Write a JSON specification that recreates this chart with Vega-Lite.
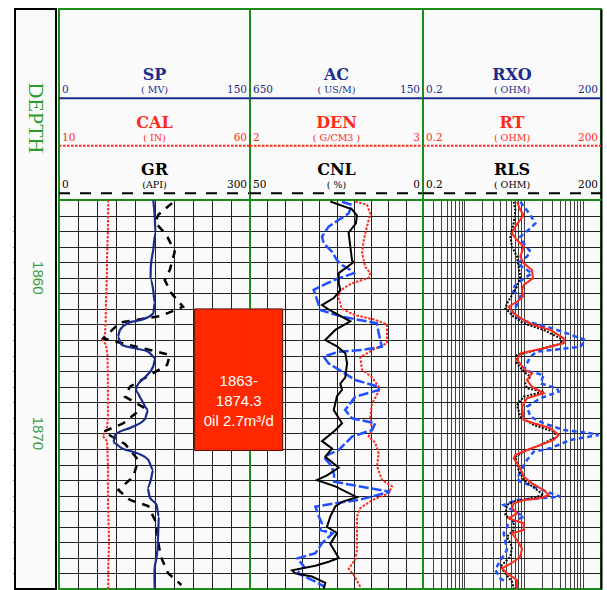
{
  "$schema": "https://vega.github.io/schema/vega-lite/v6.json",
  "background": "#ffffff",
  "padding": {"left": 11, "top": 8, "right": 0, "bottom": 0},
  "config": {
    "view": {"stroke": "#1a8c1a", "strokeWidth": 2, "fill": "#fafafa"},
    "line": {"strokeWidth": 2, "clip": true}
  },
  "datasets": {
    "depthLabels": [{"depth": 1860}, {"depth": 1870}],
    "head1": [
      {"row": 1, "name": "SP", "unit": "( MV)", "min": "0", "max": "150"},
      {"row": 2, "name": "CAL", "unit": "( IN)", "min": "10", "max": "60"},
      {"row": 3, "name": "GR", "unit": "(API)", "min": "0", "max": "300"}
    ],
    "head2": [
      {"row": 1, "name": "AC", "unit": "( US/M)", "min": "650", "max": "150"},
      {"row": 2, "name": "DEN", "unit": "( G/CM3 )", "min": "2", "max": "3"},
      {"row": 3, "name": "CNL", "unit": "( %)", "min": "50", "max": "0"}
    ],
    "head3": [
      {"row": 1, "name": "RXO", "unit": "( OHM)", "min": "0.2", "max": "200"},
      {"row": 2, "name": "RT", "unit": "( OHM)", "min": "0.2", "max": "200"},
      {"row": 3, "name": "RLS", "unit": "( OHM)", "min": "0.2", "max": "200"}
    ],
    "box": [{"top": 1862, "bottom": 1871.1, "label": "1863-\n1874.3\n0il 2.7m³/d"}],
    "SP": [
      {"depth": 1855.0, "sp": 74.0}, {"depth": 1856.1, "sp": 75.2}, {"depth": 1857.1, "sp": 75.8},
      {"depth": 1858.2, "sp": 74.0}, {"depth": 1859.3, "sp": 72.1}, {"depth": 1860.1, "sp": 71.9},
      {"depth": 1860.8, "sp": 74.0}, {"depth": 1861.6, "sp": 75.2}, {"depth": 1862.3, "sp": 74.0},
      {"depth": 1862.7, "sp": 64.8}, {"depth": 1862.9, "sp": 54.4}, {"depth": 1863.35, "sp": 47.9},
      {"depth": 1863.8, "sp": 46.1}, {"depth": 1864.3, "sp": 49.2}, {"depth": 1864.53, "sp": 59.6},
      {"depth": 1864.75, "sp": 70.1}, {"depth": 1865.15, "sp": 75.8}, {"depth": 1865.7, "sp": 74.0},
      {"depth": 1866.4, "sp": 67.4}, {"depth": 1867.0, "sp": 60.9}, {"depth": 1867.3, "sp": 60.5},
      {"depth": 1867.85, "sp": 64.8}, {"depth": 1868.5, "sp": 70.1}, {"depth": 1869.1, "sp": 67.4},
      {"depth": 1869.6, "sp": 57.0}, {"depth": 1870.1, "sp": 44.0}, {"depth": 1870.6, "sp": 42.7},
      {"depth": 1870.95, "sp": 49.2}, {"depth": 1871.3, "sp": 62.2}, {"depth": 1871.7, "sp": 70.1},
      {"depth": 1872.35, "sp": 74.0}, {"depth": 1873.0, "sp": 72.1}, {"depth": 1873.5, "sp": 69.5},
      {"depth": 1874.1, "sp": 71.3}, {"depth": 1874.6, "sp": 76.6}, {"depth": 1875.35, "sp": 78.4},
      {"depth": 1876.4, "sp": 77.9}, {"depth": 1877.5, "sp": 77.3}, {"depth": 1878.6, "sp": 75.2},
      {"depth": 1879.0, "sp": 74.7}, {"depth": 1880.0, "sp": 75.2}
    ],
    "CAL": [
      {"depth": 1855.0, "cal": 22.9}, {"depth": 1857.0, "cal": 22.8}, {"depth": 1858.5, "cal": 22.6},
      {"depth": 1860.0, "cal": 22.5}, {"depth": 1861.5, "cal": 22.3}, {"depth": 1863.0, "cal": 22.2},
      {"depth": 1863.7, "cal": 22.0}, {"depth": 1863.95, "cal": 21.3}, {"depth": 1864.3, "cal": 22.3},
      {"depth": 1865.0, "cal": 22.7}, {"depth": 1867.0, "cal": 22.8}, {"depth": 1869.0, "cal": 22.8},
      {"depth": 1869.8, "cal": 22.5}, {"depth": 1870.15, "cal": 21.4}, {"depth": 1870.5, "cal": 22.6},
      {"depth": 1872.0, "cal": 22.8}, {"depth": 1874.0, "cal": 22.8}, {"depth": 1876.0, "cal": 23.0},
      {"depth": 1877.0, "cal": 23.1}, {"depth": 1878.5, "cal": 22.9}, {"depth": 1880.0, "cal": 22.9}
    ],
    "GR": [
      {"depth": 1855.2, "gr": 177.6}, {"depth": 1855.96, "gr": 155.7}, {"depth": 1856.46, "gr": 151.6},
      {"depth": 1857.25, "gr": 168.8}, {"depth": 1858.32, "gr": 181.8}, {"depth": 1859.5, "gr": 174.0},
      {"depth": 1860.14, "gr": 166.1}, {"depth": 1861.0, "gr": 176.6}, {"depth": 1861.86, "gr": 194.8},
      {"depth": 1862.45, "gr": 159.9}, {"depth": 1862.88, "gr": 95.8}, {"depth": 1863.89, "gr": 69.8},
      {"depth": 1864.25, "gr": 103.6}, {"depth": 1864.53, "gr": 132.3}, {"depth": 1864.96, "gr": 174.0},
      {"depth": 1865.6, "gr": 169.8}, {"depth": 1867.0, "gr": 111.5}, {"depth": 1867.64, "gr": 103.6},
      {"depth": 1868.32, "gr": 132.3}, {"depth": 1869.35, "gr": 101.0}, {"depth": 1869.89, "gr": 69.8},
      {"depth": 1870.68, "gr": 103.6}, {"depth": 1871.71, "gr": 124.5}, {"depth": 1872.78, "gr": 116.7},
      {"depth": 1873.64, "gr": 93.2}, {"depth": 1874.28, "gr": 111.5}, {"depth": 1874.67, "gr": 140.1},
      {"depth": 1875.78, "gr": 153.1}, {"depth": 1876.96, "gr": 155.7}, {"depth": 1877.92, "gr": 159.9},
      {"depth": 1878.99, "gr": 171.4}, {"depth": 1879.74, "gr": 192.2}
    ],
    "AC": [
      {"depth": 1855.1, "ac": 345.7}, {"depth": 1855.3, "ac": 311.9}, {"depth": 1855.9, "ac": 302.3},
      {"depth": 1856.7, "ac": 311.9}, {"depth": 1857.6, "ac": 321.4}, {"depth": 1858.4, "ac": 326.3},
      {"depth": 1859.3, "ac": 316.8}, {"depth": 1859.7, "ac": 302.3}, {"depth": 1860.0, "ac": 307.0},
      {"depth": 1860.35, "ac": 355.2}, {"depth": 1860.8, "ac": 389.0}, {"depth": 1861.2, "ac": 395.7},
      {"depth": 1862.0, "ac": 384.1}, {"depth": 1862.4, "ac": 345.7}, {"depth": 1862.7, "ac": 287.9},
      {"depth": 1863.0, "ac": 254.1}, {"depth": 1864.2, "ac": 254.1}, {"depth": 1864.6, "ac": 292.5},
      {"depth": 1865.1, "ac": 331.2}, {"depth": 1865.9, "ac": 326.3}, {"depth": 1866.4, "ac": 297.4},
      {"depth": 1867.0, "ac": 278.1}, {"depth": 1867.3, "ac": 278.1}, {"depth": 1868.1, "ac": 297.4},
      {"depth": 1868.9, "ac": 302.3}, {"depth": 1869.8, "ac": 297.4}, {"depth": 1870.2, "ac": 307.0},
      {"depth": 1870.6, "ac": 287.9}, {"depth": 1871.3, "ac": 278.1}, {"depth": 1872.1, "ac": 283.0},
      {"depth": 1873.0, "ac": 268.5}, {"depth": 1873.4, "ac": 239.6}, {"depth": 1873.85, "ac": 249.2},
      {"depth": 1874.3, "ac": 297.4}, {"depth": 1874.8, "ac": 331.2}, {"depth": 1875.35, "ac": 340.8},
      {"depth": 1876.4, "ac": 340.8}, {"depth": 1877.5, "ac": 340.8}, {"depth": 1878.1, "ac": 345.7},
      {"depth": 1878.7, "ac": 364.8}, {"depth": 1879.1, "ac": 350.3}, {"depth": 1879.85, "ac": 331.2}
    ],
    "DEN": [
      {"depth": 1855.1, "den": 2.464}, {"depth": 1855.6, "den": 2.59}, {"depth": 1856.0, "den": 2.618},
      {"depth": 1856.5, "den": 2.612}, {"depth": 1857.1, "den": 2.57}, {"depth": 1858.0, "den": 2.58},
      {"depth": 1858.9, "den": 2.59}, {"depth": 1859.0, "den": 2.599}, {"depth": 1859.7, "den": 2.513},
      {"depth": 1860.35, "den": 2.513}, {"depth": 1860.8, "den": 2.522}, {"depth": 1861.3, "den": 2.484},
      {"depth": 1861.75, "den": 2.416}, {"depth": 1862.1, "den": 2.464}, {"depth": 1862.8, "den": 2.58},
      {"depth": 1863.35, "den": 2.493}, {"depth": 1864.0, "den": 2.435}, {"depth": 1864.4, "den": 2.503},
      {"depth": 1864.85, "den": 2.551}, {"depth": 1865.5, "den": 2.561}, {"depth": 1866.4, "den": 2.551},
      {"depth": 1866.8, "den": 2.522}, {"depth": 1867.2, "den": 2.532}, {"depth": 1867.6, "den": 2.503},
      {"depth": 1868.5, "den": 2.484}, {"depth": 1869.35, "den": 2.532}, {"depth": 1869.8, "den": 2.493},
      {"depth": 1870.5, "den": 2.416}, {"depth": 1870.96, "den": 2.474}, {"depth": 1871.5, "den": 2.435},
      {"depth": 1872.2, "den": 2.513}, {"depth": 1872.7, "den": 2.445}, {"depth": 1873.0, "den": 2.387},
      {"depth": 1873.4, "den": 2.493}, {"depth": 1874.1, "den": 2.618}, {"depth": 1874.4, "den": 2.532},
      {"depth": 1874.7, "den": 2.493}, {"depth": 1875.35, "den": 2.464}, {"depth": 1876.0, "den": 2.445},
      {"depth": 1876.4, "den": 2.503}, {"depth": 1877.1, "den": 2.464}, {"depth": 1878.0, "den": 2.513},
      {"depth": 1878.25, "den": 2.455}, {"depth": 1878.5, "den": 2.378}, {"depth": 1878.8, "den": 2.243},
      {"depth": 1879.0, "den": 2.262}, {"depth": 1879.2, "den": 2.358}, {"depth": 1879.6, "den": 2.435},
      {"depth": 1880.0, "den": 2.426}
    ],
    "CNL": [
      {"depth": 1855.11, "cnl": 23.4}, {"depth": 1855.32, "cnl": 20.5}, {"depth": 1855.86, "cnl": 21.5},
      {"depth": 1856.29, "cnl": 24.4}, {"depth": 1856.71, "cnl": 27.3}, {"depth": 1857.36, "cnl": 29.2},
      {"depth": 1857.78, "cnl": 28.7}, {"depth": 1858.32, "cnl": 26.3}, {"depth": 1858.86, "cnl": 24.9},
      {"depth": 1859.18, "cnl": 23.4}, {"depth": 1859.5, "cnl": 21.0}, {"depth": 1859.71, "cnl": 20.0},
      {"depth": 1860.03, "cnl": 24.4}, {"depth": 1860.35, "cnl": 27.7}, {"depth": 1860.78, "cnl": 31.6},
      {"depth": 1861.43, "cnl": 30.6}, {"depth": 1862.07, "cnl": 29.7}, {"depth": 1862.5, "cnl": 23.4},
      {"depth": 1862.82, "cnl": 15.7}, {"depth": 1862.93, "cnl": 13.3}, {"depth": 1863.57, "cnl": 12.8},
      {"depth": 1864.43, "cnl": 11.9}, {"depth": 1864.64, "cnl": 17.6}, {"depth": 1864.75, "cnl": 24.4},
      {"depth": 1865.07, "cnl": 28.7}, {"depth": 1865.5, "cnl": 27.3}, {"depth": 1866.03, "cnl": 23.4},
      {"depth": 1866.57, "cnl": 19.6}, {"depth": 1867.0, "cnl": 12.8}, {"depth": 1867.21, "cnl": 12.8},
      {"depth": 1867.64, "cnl": 19.6}, {"depth": 1868.5, "cnl": 22.5}, {"depth": 1869.03, "cnl": 20.5},
      {"depth": 1869.35, "cnl": 13.8}, {"depth": 1869.78, "cnl": 14.7}, {"depth": 1870.21, "cnl": 20.5},
      {"depth": 1871.07, "cnl": 24.4}, {"depth": 1871.5, "cnl": 28.7}, {"depth": 1872.14, "cnl": 26.3},
      {"depth": 1872.67, "cnl": 25.7}, {"depth": 1873.1, "cnl": 25.7}, {"depth": 1873.32, "cnl": 20.5},
      {"depth": 1873.75, "cnl": 9.5}, {"depth": 1874.28, "cnl": 18.6}, {"depth": 1874.5, "cnl": 25.7},
      {"depth": 1874.71, "cnl": 31.1}, {"depth": 1875.35, "cnl": 30.1}, {"depth": 1875.78, "cnl": 29.2},
      {"depth": 1876.21, "cnl": 29.7}, {"depth": 1876.42, "cnl": 26.1}, {"depth": 1877.06, "cnl": 29.2},
      {"depth": 1877.7, "cnl": 31.1}, {"depth": 1878.03, "cnl": 36.3}, {"depth": 1878.57, "cnl": 34.4},
      {"depth": 1878.99, "cnl": 36.3}, {"depth": 1879.53, "cnl": 31.1}, {"depth": 1879.85, "cnl": 28.5}
    ],
    "RT": [
      {"depth": 1855.11, "rt": 7.68}, {"depth": 1855.64, "rt": 8.73}, {"depth": 1855.96, "rt": 9.96},
      {"depth": 1856.71, "rt": 7.2}, {"depth": 1857.14, "rt": 6.32}, {"depth": 1857.57, "rt": 7.68},
      {"depth": 1858.0, "rt": 9.96}, {"depth": 1858.64, "rt": 8.73}, {"depth": 1859.07, "rt": 9.96},
      {"depth": 1859.5, "rt": 13.7}, {"depth": 1860.03, "rt": 14.3}, {"depth": 1860.46, "rt": 9.96},
      {"depth": 1860.78, "rt": 9.33}, {"depth": 1861.21, "rt": 9.69}, {"depth": 1861.54, "rt": 7.68},
      {"depth": 1861.86, "rt": 5.56}, {"depth": 1862.28, "rt": 6.75}, {"depth": 1862.71, "rt": 9.96},
      {"depth": 1863.03, "rt": 14.7}, {"depth": 1863.35, "rt": 28.0}, {"depth": 1863.89, "rt": 47.1},
      {"depth": 1864.21, "rt": 47.1}, {"depth": 1864.53, "rt": 21.6}, {"depth": 1864.85, "rt": 8.73},
      {"depth": 1865.28, "rt": 7.68}, {"depth": 1865.93, "rt": 10.6}, {"depth": 1866.14, "rt": 13.7},
      {"depth": 1866.57, "rt": 11.3}, {"depth": 1867.0, "rt": 13.7}, {"depth": 1867.42, "rt": 21.6},
      {"depth": 1867.74, "rt": 11.3}, {"depth": 1868.28, "rt": 9.33}, {"depth": 1869.14, "rt": 9.96},
      {"depth": 1869.35, "rt": 14.7}, {"depth": 1869.67, "rt": 28.0}, {"depth": 1870.1, "rt": 38.7},
      {"depth": 1870.42, "rt": 31.9}, {"depth": 1870.75, "rt": 19.0}, {"depth": 1871.07, "rt": 11.3},
      {"depth": 1871.39, "rt": 7.2}, {"depth": 1871.6, "rt": 6.75}, {"depth": 1872.24, "rt": 8.73},
      {"depth": 1872.78, "rt": 9.96}, {"depth": 1873.21, "rt": 13.7}, {"depth": 1873.64, "rt": 21.6},
      {"depth": 1873.96, "rt": 26.3}, {"depth": 1874.17, "rt": 19.0}, {"depth": 1874.28, "rt": 9.96},
      {"depth": 1874.5, "rt": 6.75}, {"depth": 1874.81, "rt": 6.32}, {"depth": 1875.14, "rt": 7.68},
      {"depth": 1875.46, "rt": 5.56}, {"depth": 1875.78, "rt": 9.96}, {"depth": 1876.21, "rt": 9.96},
      {"depth": 1876.42, "rt": 6.32}, {"depth": 1876.85, "rt": 7.68}, {"depth": 1877.39, "rt": 9.33},
      {"depth": 1877.92, "rt": 8.73}, {"depth": 1878.25, "rt": 6.75}, {"depth": 1878.67, "rt": 4.29},
      {"depth": 1878.99, "rt": 5.21}, {"depth": 1879.42, "rt": 7.68}, {"depth": 1879.96, "rt": 7.68}
    ],
    "RXO": [
      {"depth": 1855.11, "rxo": 8.73}, {"depth": 1855.96, "rxo": 12.9}, {"depth": 1856.5, "rxo": 15.6},
      {"depth": 1856.82, "rxo": 12.9}, {"depth": 1857.36, "rxo": 8.73}, {"depth": 1857.78, "rxo": 9.96},
      {"depth": 1858.32, "rxo": 12.9}, {"depth": 1858.64, "rxo": 11.3}, {"depth": 1859.07, "rxo": 7.68},
      {"depth": 1859.71, "rxo": 13.7}, {"depth": 1860.35, "rxo": 7.68}, {"depth": 1860.78, "rxo": 6.32},
      {"depth": 1861.21, "rxo": 8.73}, {"depth": 1861.75, "rxo": 7.68}, {"depth": 1862.18, "rxo": 6.32},
      {"depth": 1862.71, "rxo": 8.73}, {"depth": 1863.14, "rxo": 24.6}, {"depth": 1863.57, "rxo": 53.5},
      {"depth": 1864.0, "rxo": 108.9}, {"depth": 1864.43, "rxo": 89.6}, {"depth": 1864.75, "rxo": 16.7},
      {"depth": 1865.07, "rxo": 12.9}, {"depth": 1865.5, "rxo": 11.3}, {"depth": 1865.93, "rxo": 9.96},
      {"depth": 1866.25, "rxo": 21.6}, {"depth": 1866.78, "rxo": 19.0}, {"depth": 1867.1, "rxo": 36.3},
      {"depth": 1867.32, "rxo": 38.7}, {"depth": 1867.74, "rxo": 19.0}, {"depth": 1868.28, "rxo": 11.3},
      {"depth": 1868.93, "rxo": 12.9}, {"depth": 1869.35, "rxo": 21.6}, {"depth": 1869.78, "rxo": 47.1},
      {"depth": 1869.99, "rxo": 132.0}, {"depth": 1870.1, "rxo": 183.0}, {"depth": 1870.42, "rxo": 60.8},
      {"depth": 1870.96, "rxo": 28.0}, {"depth": 1871.17, "rxo": 14.7}, {"depth": 1871.71, "rxo": 11.3},
      {"depth": 1872.89, "rxo": 7.68}, {"depth": 1873.1, "rxo": 8.73}, {"depth": 1873.43, "rxo": 14.7},
      {"depth": 1874.07, "rxo": 41.3}, {"depth": 1874.28, "rxo": 7.68}, {"depth": 1874.6, "rxo": 4.58},
      {"depth": 1875.35, "rxo": 9.96}, {"depth": 1875.78, "rxo": 5.56}, {"depth": 1876.42, "rxo": 4.58},
      {"depth": 1877.49, "rxo": 5.21}, {"depth": 1878.35, "rxo": 3.77}, {"depth": 1878.78, "rxo": 3.31},
      {"depth": 1879.32, "rxo": 4.02}, {"depth": 1879.53, "rxo": 4.88}
    ],
    "RLS": [
      {"depth": 1855.11, "rls": 6.75}, {"depth": 1855.64, "rls": 7.2}, {"depth": 1856.5, "rls": 6.75},
      {"depth": 1857.36, "rls": 5.93}, {"depth": 1858.0, "rls": 6.32}, {"depth": 1858.64, "rls": 7.68},
      {"depth": 1859.29, "rls": 8.19}, {"depth": 1859.93, "rls": 8.73}, {"depth": 1860.57, "rls": 7.68},
      {"depth": 1861.64, "rls": 5.21}, {"depth": 1861.96, "rls": 4.88}, {"depth": 1862.5, "rls": 6.75},
      {"depth": 1862.93, "rls": 9.96}, {"depth": 1863.35, "rls": 21.6}, {"depth": 1863.89, "rls": 41.3},
      {"depth": 1864.21, "rls": 44.0}, {"depth": 1864.53, "rls": 21.6}, {"depth": 1864.96, "rls": 7.68},
      {"depth": 1865.5, "rls": 7.68}, {"depth": 1866.03, "rls": 9.96}, {"depth": 1866.36, "rls": 12.9},
      {"depth": 1866.78, "rls": 10.6}, {"depth": 1867.1, "rls": 11.3}, {"depth": 1867.32, "rls": 21.6},
      {"depth": 1867.64, "rls": 9.96}, {"depth": 1868.18, "rls": 7.68}, {"depth": 1868.93, "rls": 8.73},
      {"depth": 1869.46, "rls": 14.7}, {"depth": 1869.89, "rls": 31.9}, {"depth": 1870.21, "rls": 36.3},
      {"depth": 1870.75, "rls": 19.0}, {"depth": 1871.17, "rls": 9.96}, {"depth": 1871.5, "rls": 7.2},
      {"depth": 1872.35, "rls": 8.19}, {"depth": 1872.99, "rls": 9.96}, {"depth": 1873.64, "rls": 16.7},
      {"depth": 1873.96, "rls": 21.6}, {"depth": 1874.17, "rls": 12.9}, {"depth": 1874.39, "rls": 6.75},
      {"depth": 1874.6, "rls": 5.21}, {"depth": 1875.24, "rls": 4.88}, {"depth": 1875.67, "rls": 6.75},
      {"depth": 1876.21, "rls": 6.75}, {"depth": 1876.64, "rls": 5.21}, {"depth": 1877.28, "rls": 6.32},
      {"depth": 1877.92, "rls": 5.93}, {"depth": 1878.57, "rls": 4.02}, {"depth": 1878.99, "rls": 4.88},
      {"depth": 1879.53, "rls": 6.32}, {"depth": 1879.96, "rls": 6.75}
    ]
  },
  "spacing": 0,
  "hconcat": [
    {
      "width": 41,
      "height": 580,
      "view": {"stroke": "#000000", "strokeWidth": 2, "fill": "#fafafa"},
      "resolve": {"scale": {"x": "independent", "y": "independent"}},
      "layer": [
        {
          "data": {"values": [{"label": "DEPTH"}]},
          "mark": {"type": "text", "angle": 90, "font": "Liberation Serif", "fontSize": 22, "color": "#2a9a2a", "align": "center", "baseline": "middle"},
          "encoding": {
            "text": {"field": "label"},
            "x": {"datum": 0.5, "scale": {"domain": [0, 1]}, "axis": null},
            "y": {"datum": 0.188, "scale": {"domain": [0, 1], "reverse": true}, "axis": null}
          }
        },
        {
          "data": {"name": "depthLabels"},
          "mark": {"type": "text", "angle": 90, "font": "Liberation Sans", "fontSize": 15, "color": "#3f9a3f", "align": "center", "baseline": "middle"},
          "encoding": {
            "text": {"field": "depth", "type": "quantitative", "format": "d"},
            "x": {"datum": 0.55, "scale": {"domain": [0, 1]}, "axis": null},
            "y": {
              "field": "depth", "type": "quantitative",
              "scale": {"domain": [1842.725, 1880], "reverse": true, "nice": false, "zero": false},
              "axis": {"values": [1856, 1857, 1858, 1859, 1860, 1861, 1862, 1863, 1864, 1865, 1866, 1867, 1868, 1869, 1870, 1871, 1872, 1873, 1874, 1875, 1876, 1877, 1878, 1879], "labels": false, "ticks": true, "tickSize": 2, "tickColor": "#000000", "domain": false, "grid": false, "title": null}
            }
          }
        }
      ]
    },
    {
      "columns": 3,
      "spacing": 0,
      "bounds": "flush",
      "align": "each",
      "concat": [
        {
          "width": 191,
          "height": 191,
          "data": {"name": "head1"},
          "encoding": {
            "y": {"field": "row", "type": "quantitative", "scale": {"domain": [-0.88, 3.14], "reverse": true, "nice": false, "zero": false}, "axis": null},
            "color": {"field": "name", "type": "nominal", "scale": {"domain": ["SP", "CAL", "GR"], "range": ["#1b2c8c", "#ff2a1a", "#000000"]}, "legend": null}
          },
          "layer": [
            {"mark": {"type": "rule", "strokeWidth": 2},
             "encoding": {"x": {"datum": 0, "scale": {"domain": [0, 1]}, "axis": null}, "x2": {"datum": 1},
               "strokeDash": {"field": "name", "type": "nominal", "scale": {"domain": ["SP", "CAL", "GR"], "range": [[1, 0], [2.5, 1.5], [11, 10]]}, "legend": null}}},
            {"mark": {"type": "text", "font": "DejaVu Serif", "fontWeight": "bold", "fontSize": 16, "dy": -18, "baseline": "alphabetic", "align": "center"},
             "encoding": {"x": {"datum": 0.5}, "text": {"field": "name"}}},
            {"mark": {"type": "text", "font": "DejaVu Serif", "fontSize": 9.5, "dy": -5, "baseline": "alphabetic", "align": "center"},
             "encoding": {"x": {"datum": 0.5}, "text": {"field": "unit"}}},
            {"mark": {"type": "text", "font": "DejaVu Serif", "fontSize": 10.5, "dy": -5, "dx": 3, "baseline": "alphabetic", "align": "left"},
             "encoding": {"x": {"datum": 0}, "text": {"field": "min"}}},
            {"mark": {"type": "text", "font": "DejaVu Serif", "fontSize": 10.5, "dy": -5, "dx": -3, "baseline": "alphabetic", "align": "right"},
             "encoding": {"x": {"datum": 1}, "text": {"field": "max"}}}
          ]
        },
        {
          "width": 173,
          "height": 191,
          "data": {"name": "head2"},
          "encoding": {
            "y": {"field": "row", "type": "quantitative", "scale": {"domain": [-0.88, 3.14], "reverse": true, "nice": false, "zero": false}, "axis": null},
            "color": {"field": "name", "type": "nominal", "scale": {"domain": ["AC", "DEN", "CNL"], "range": ["#ff2a1a", "#000000", "#2050ff"]}, "legend": null}
          },
          "layer": [
            {"mark": {"type": "rule", "strokeWidth": 2},
             "encoding": {"x": {"datum": 0, "scale": {"domain": [0, 1]}, "axis": null}, "x2": {"datum": 1},
               "strokeDash": {"field": "name", "type": "nominal", "scale": {"domain": ["AC", "DEN", "CNL"], "range": [[2.5, 1.5], [1, 0], [12, 3]]}, "legend": null}}},
            {"mark": {"type": "text", "font": "DejaVu Serif", "fontWeight": "bold", "fontSize": 16, "dy": -18, "baseline": "alphabetic", "align": "center"},
             "encoding": {"x": {"datum": 0.5}, "text": {"field": "name"}}},
            {"mark": {"type": "text", "font": "DejaVu Serif", "fontSize": 9.5, "dy": -5, "baseline": "alphabetic", "align": "center"},
             "encoding": {"x": {"datum": 0.5}, "text": {"field": "unit"}}},
            {"mark": {"type": "text", "font": "DejaVu Serif", "fontSize": 10.5, "dy": -5, "dx": 3, "baseline": "alphabetic", "align": "left"},
             "encoding": {"x": {"datum": 0}, "text": {"field": "min"}}},
            {"mark": {"type": "text", "font": "DejaVu Serif", "fontSize": 10.5, "dy": -5, "dx": -3, "baseline": "alphabetic", "align": "right"},
             "encoding": {"x": {"datum": 1}, "text": {"field": "max"}}}
          ]
        },
        {
          "width": 178,
          "height": 191,
          "data": {"name": "head3"},
          "encoding": {
            "y": {"field": "row", "type": "quantitative", "scale": {"domain": [-0.88, 3.14], "reverse": true, "nice": false, "zero": false},
              "axis": {"orient": "right", "domain": true, "domainColor": "#000000", "domainWidth": 2, "labels": false, "ticks": false, "grid": false, "title": null}},
            "color": {"field": "name", "type": "nominal", "scale": {"domain": ["RXO", "RT", "RLS"], "range": ["#2050ff", "#ff2a1a", "#000000"]}, "legend": null}
          },
          "layer": [
            {"mark": {"type": "rule", "strokeWidth": 2},
             "encoding": {"x": {"datum": 0, "scale": {"domain": [0, 1]}, "axis": null}, "x2": {"datum": 1},
               "strokeDash": {"field": "name", "type": "nominal", "scale": {"domain": ["RXO", "RT", "RLS"], "range": [[5, 3.5], [1, 0], [3, 1.5]]}, "legend": null}}},
            {"mark": {"type": "text", "font": "DejaVu Serif", "fontWeight": "bold", "fontSize": 16, "dy": -18, "baseline": "alphabetic", "align": "center"},
             "encoding": {"x": {"datum": 0.5}, "text": {"field": "name"}}},
            {"mark": {"type": "text", "font": "DejaVu Serif", "fontSize": 9.5, "dy": -5, "baseline": "alphabetic", "align": "center"},
             "encoding": {"x": {"datum": 0.5}, "text": {"field": "unit"}}},
            {"mark": {"type": "text", "font": "DejaVu Serif", "fontSize": 10.5, "dy": -5, "dx": 3, "baseline": "alphabetic", "align": "left"},
             "encoding": {"x": {"datum": 0}, "text": {"field": "min"}}},
            {"mark": {"type": "text", "font": "DejaVu Serif", "fontSize": 10.5, "dy": -5, "dx": -3, "baseline": "alphabetic", "align": "right"},
             "encoding": {"x": {"datum": 1}, "text": {"field": "max"}}}
          ]
        },
        {
          "width": 191,
          "height": 389,
          "encoding": {
            "y": {"field": "depth", "type": "quantitative", "scale": {"domain": [1855, 1880], "reverse": true, "nice": false, "zero": false},
              "axis": {"values": [1856, 1857, 1858, 1859, 1860, 1861, 1862, 1863, 1864, 1865, 1866, 1867, 1868, 1869, 1870, 1871, 1872, 1873, 1874, 1875, 1876, 1877, 1878, 1879], "grid": true, "gridColor": "#222222", "gridWidth": 1, "labels": false, "ticks": false, "domain": false, "title": null}}
          },
          "resolve": {"scale": {"x": "independent"}},
          "layer": [
            {"data": {"name": "CAL"},
             "mark": {"type": "line", "color": "#ff2a1a", "strokeDash": [2.5, 1.5]},
             "encoding": {"x": {"field": "cal", "type": "quantitative", "scale": {"domain": [10, 60], "nice": false, "zero": false}, "axis": null}, "order": {"field": "depth", "type": "quantitative"}}},
            {"data": {"name": "GR"},
             "mark": {"type": "line", "color": "#000000", "strokeWidth": 2.5, "strokeDash": [8, 7]},
             "encoding": {"x": {"field": "gr", "type": "quantitative", "scale": {"domain": [0, 300], "nice": false, "zero": false}, "axis": null}, "order": {"field": "depth", "type": "quantitative"}}},
            {"data": {"name": "SP"},
             "mark": {"type": "line", "color": "#1b2c8c", "strokeWidth": 2.2, "interpolate": "monotone"},
             "encoding": {"x": {"field": "sp", "type": "quantitative", "scale": {"domain": [0, 150], "nice": false, "zero": false},
               "axis": {"values": [15, 30, 45, 60, 75, 90, 105, 120, 135], "grid": true, "gridColor": "#222222", "gridWidth": 1, "labels": false, "ticks": false, "domain": false, "title": null}},
               "order": {"field": "depth", "type": "quantitative"}}},
            {"data": {"name": "box"},
             "mark": {"type": "rect", "color": "#ff2800", "stroke": "#5a0a00", "strokeWidth": 1},
             "encoding": {"x": {"datum": 7.1, "scale": {"domain": [0, 10]}, "axis": null}, "x2": {"datum": 10}, "y": {"field": "top", "type": "quantitative"}, "y2": {"field": "bottom"}}}
          ]
        },
        {
          "width": 173,
          "height": 389,
          "encoding": {
            "y": {"field": "depth", "type": "quantitative", "scale": {"domain": [1855, 1880], "reverse": true, "nice": false, "zero": false},
              "axis": {"values": [1856, 1857, 1858, 1859, 1860, 1861, 1862, 1863, 1864, 1865, 1866, 1867, 1868, 1869, 1870, 1871, 1872, 1873, 1874, 1875, 1876, 1877, 1878, 1879], "grid": true, "gridColor": "#222222", "gridWidth": 1, "labels": false, "ticks": false, "domain": false, "title": null}}
          },
          "resolve": {"scale": {"x": "independent"}},
          "layer": [
            {"data": {"name": "AC"},
             "mark": {"type": "line", "color": "#ff2a1a", "strokeDash": [2.5, 1.5]},
             "encoding": {"x": {"field": "ac", "type": "quantitative", "scale": {"domain": [150, 650], "reverse": true, "nice": false, "zero": false}, "axis": null}, "order": {"field": "depth", "type": "quantitative"}}},
            {"data": {"name": "CNL"},
             "mark": {"type": "line", "color": "#2050ff", "strokeWidth": 2.5, "strokeDash": [10, 3]},
             "encoding": {"x": {"field": "cnl", "type": "quantitative", "scale": {"domain": [0, 50], "reverse": true, "nice": false, "zero": false}, "axis": null}, "order": {"field": "depth", "type": "quantitative"}}},
            {"data": {"name": "DEN"},
             "mark": {"type": "line", "color": "#000000"},
             "encoding": {"x": {"field": "den", "type": "quantitative", "scale": {"domain": [2, 3], "nice": false, "zero": false},
               "axis": {"values": [2.1, 2.2, 2.3, 2.4, 2.5, 2.6, 2.7, 2.8, 2.9], "grid": true, "gridColor": "#222222", "gridWidth": 1, "labels": false, "ticks": false, "domain": false, "title": null}},
               "order": {"field": "depth", "type": "quantitative"}}},
            {"data": {"name": "box"},
             "mark": {"type": "rect", "color": "#ff2800", "stroke": "#5a0a00", "strokeWidth": 1},
             "encoding": {"x": {"datum": 0, "scale": {"domain": [0, 10]}, "axis": null}, "x2": {"datum": 1.89}, "y": {"field": "top", "type": "quantitative"}, "y2": {"field": "bottom"}}},
            {"data": {"name": "box"},
             "mark": {"type": "rect", "color": "#ff2800", "yOffset": 1, "y2Offset": -1},
             "encoding": {"x": {"datum": -0.12, "scale": {"domain": [0, 10]}, "axis": null}, "x2": {"datum": 0.12}, "y": {"field": "top", "type": "quantitative"}, "y2": {"field": "bottom"}}},
            {"data": {"name": "box"},
             "mark": {"type": "text", "color": "#ffffff", "font": "Liberation Sans", "fontSize": 15, "lineHeight": 20, "lineBreak": "\n", "align": "center", "baseline": "middle", "dy": 72.5},
             "encoding": {"x": {"datum": -0.65, "scale": {"domain": [0, 10]}, "axis": null}, "y": {"field": "top", "type": "quantitative"}, "text": {"field": "label"}}}
          ]
        },
        {
          "width": 178,
          "height": 389,
          "resolve": {"scale": {"x": "independent"}, "axis": {"y": "independent"}},
          "layer": [
            {"data": {"name": "RXO"},
             "mark": {"type": "line", "color": "#2050ff", "strokeWidth": 2.5, "strokeDash": [5, 3.5]},
             "encoding": {
               "y": {"field": "depth", "type": "quantitative", "scale": {"domain": [1855, 1880], "reverse": true, "nice": false, "zero": false},
                 "axis": {"values": [1856, 1857, 1858, 1859, 1860, 1861, 1862, 1863, 1864, 1865, 1866, 1867, 1868, 1869, 1870, 1871, 1872, 1873, 1874, 1875, 1876, 1877, 1878, 1879], "grid": true, "gridColor": "#222222", "gridWidth": 1, "labels": false, "ticks": false, "domain": false, "title": null}},
               "x": {"field": "rxo", "type": "quantitative", "scale": {"type": "log", "domain": [0.2, 200], "nice": false},
                 "axis": {"values": [0.3, 0.4, 0.5, 0.6, 0.7, 0.8, 0.9, 1, 2, 3, 4, 5, 6, 7, 8, 9, 10, 20, 30, 40, 50, 60, 70, 80, 90, 100], "grid": true, "gridColor": "#444444", "gridWidth": 1, "labels": false, "ticks": false, "domain": false, "title": null}},
               "order": {"field": "depth", "type": "quantitative"}}},
            {"data": {"name": "RLS"},
             "mark": {"type": "line", "color": "#000000", "strokeDash": [2, 1.5]},
             "encoding": {
               "y": {"field": "depth", "type": "quantitative",
                 "axis": {"orient": "right", "domain": true, "domainColor": "#000000", "domainWidth": 2, "labels": false, "ticks": false, "grid": false, "title": null}},
               "x": {"field": "rls", "type": "quantitative", "scale": {"type": "log", "domain": [0.2, 200], "nice": false}, "axis": null},
               "order": {"field": "depth", "type": "quantitative"}}},
            {"data": {"name": "RT"},
             "mark": {"type": "line", "color": "#ff2a1a"},
             "encoding": {
               "y": {"field": "depth", "type": "quantitative", "axis": null},
               "x": {"field": "rt", "type": "quantitative", "scale": {"type": "log", "domain": [0.2, 200], "nice": false}, "axis": null},
               "order": {"field": "depth", "type": "quantitative"}}}
          ]
        }
      ]
    }
  ]
}
